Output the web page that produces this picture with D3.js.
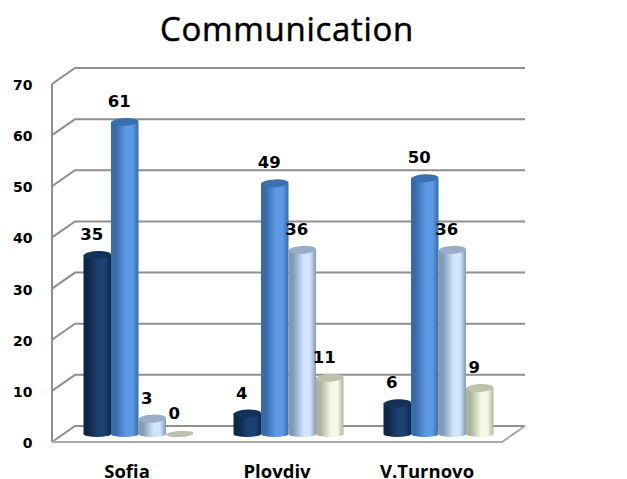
<!DOCTYPE html>
<html>
<head>
<meta charset="utf-8">
<script src="https://cdn.jsdelivr.net/npm/d3@7"></script>
<style>
html,body{margin:0;padding:0;background:#fff;overflow:hidden}
svg{display:block}
</style>
</head>
<body>
<svg id="chart" width="627" height="479"></svg>
<script>
// Chart data
const chartTitle = "Communication";
const cities = ["Sofia", "Plovdiv", "V.Turnovo"];
const seriesKeys = ["a", "b", "c", "d"];
const seriesA = [35, 4, 6];
const seriesB = [61, 49, 50];
const seriesC = [3, 36, 36];
const seriesD = [0, 11, 9];
const axisTicks = [0, 10, 20, 30, 40, 50, 60, 70];

const seriesValues = [seriesA, seriesB, seriesC, seriesD];
const palette = [
  {edge: "#0e2747", mid: "#1c4272", top: "#12325a"},
  {edge: "#386ba8", mid: "#5c9ae6", top: "#3a70b0"},
  {edge: "#8499b4", mid: "#d2e5ff", top: "#98adc8"},
  {edge: "#aeb49c", mid: "#f4f8e6", top: "#bcc2ac"}
];

const depthX = 23, depthY = 16;
const svg = d3.select("#chart");

const x = d3.scaleBand().domain(cities).range([52, 502]);
const inner = d3.scaleBand().domain(seriesKeys).range([-55, 55]);
const y = d3.scaleLinear().domain([0, 70]).range([442, 84]);

// Cylinder shading, one horizontal gradient per series
const defs = svg.append("defs");
palette.forEach((p, i) => {
  const g = defs.append("linearGradient").attr("id", "cyl" + i)
    .attr("x1", 0).attr("x2", 1).attr("y1", 0).attr("y2", 0);
  [[0, p.edge], [0.16, p.edge], [0.55, p.mid], [0.78, p.mid], [1, p.edge]].forEach(s =>
    g.append("stop").attr("offset", s[0]).attr("stop-color", s[1]));
});

// Back wall: gridlines, with their diagonal return to the left edge
const grid = svg.append("g").attr("fill", "none").attr("stroke", "#8f8f8f").attr("stroke-width", 2);
axisTicks.forEach(t => {
  grid.append("path")
    .attr("d", d3.line()([[52, y(t)], [52 + depthX, y(t) - depthY], [502 + depthX, y(t) - depthY]]));
});
grid.append("line")
  .attr("x1", 52).attr("x2", 52).attr("y1", y(70)).attr("y2", y(0));

// Floor outline
svg.append("path")
  .attr("d", d3.line()([[52, y(0)], [502, y(0)], [502 + depthX, y(0) - depthY]]))
  .attr("fill", "none").attr("stroke", "#a9a9a9").attr("stroke-width", 2);

// Cylinders sit half way back on the floor
const rows = cities.flatMap((c, ci) => seriesValues.map((vals, si) => ({c, si, v: vals[ci]})));
const barW = inner.bandwidth();
const barX = d => x(d.c) + x.bandwidth() / 2 + depthX / 2 + inner(seriesKeys[d.si]);
const mid = v => y(v) - depthY / 2;

const bars = svg.append("g").selectAll("g").data(rows).join("g");
bars.filter(d => d.v > 0).append("path")
  .attr("d", d => {
    const l = barX(d), r = l + barW;
    return `M${l},${mid(d.v)}L${l},${mid(0)}A${barW / 2},3 0 0 0 ${r},${mid(0)}L${r},${mid(d.v)}Z`;
  })
  .attr("fill", d => `url(#cyl${d.si})`);
bars.append("ellipse")
  .attr("rx", barW / 2).attr("ry", d => d.v > 0 ? 4 : 3)
  .attr("transform", d => `translate(${barX(d) + barW / 2},${mid(d.v)}) rotate(-3)`)
  .attr("fill", d => d.v > 0 ? palette[d.si].top : "#bcc2ac");

// Value labels
const labelFont = "'DejaVu Sans',sans-serif";
const categoryFont = "'Open Sans','Noto Sans',sans-serif";
svg.append("g").selectAll("text").data(rows).join("text")
  .attr("x", d => barX(d) + barW / 2 - 5.5)
  .attr("y", d => mid(d.v) - 15)
  .attr("text-anchor", "middle")
  .attr("font-family", labelFont).attr("font-weight", 700).attr("font-size", 16.5)
  .attr("fill", "#000")
  .text(d => d.v);

// Axes carry text only; the lines are drawn with the walls
const yAxis = svg.append("g").attr("transform", "translate(32.5,1)")
  .call(d3.axisLeft(y).tickValues(axisTicks).tickSize(0).tickPadding(0));
yAxis.select(".domain").remove();
yAxis.selectAll("text").attr("font-family", labelFont).attr("font-weight", 700)
  .attr("font-size", 14).attr("fill", "#000");

const xAxis = svg.append("g").attr("transform", "translate(0,477.5)")
  .call(d3.axisBottom(x).tickSize(0).tickPadding(0));
xAxis.select(".domain").remove();
xAxis.selectAll("text").attr("y", 0).attr("dy", 0).attr("font-family", categoryFont)
  .attr("font-weight", 700).attr("font-size", 18.5).attr("fill", "#000");

svg.append("text")
  .attr("x", 287).attr("y", 41)
  .attr("text-anchor", "middle")
  .attr("font-family", categoryFont).attr("font-size", 33)
  .attr("letter-spacing", 0.7)
  .attr("fill", "#000").attr("stroke", "#000").attr("stroke-width", 0.5)
  .text(chartTitle);
</script>
</body>
</html>
